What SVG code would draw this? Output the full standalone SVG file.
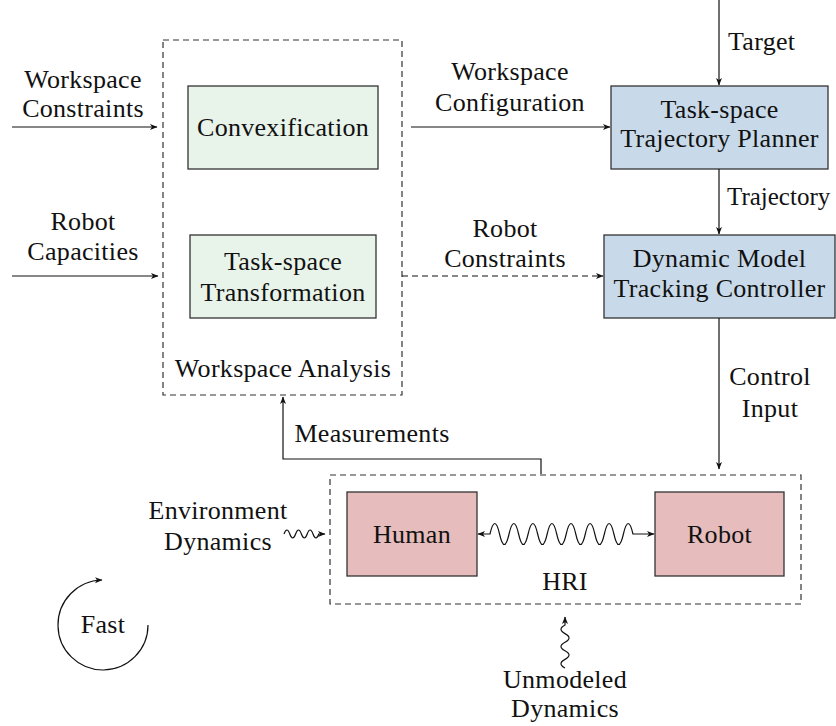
<svg xmlns="http://www.w3.org/2000/svg" width="836" height="726" viewBox="0 0 836 726">
<style>
text{font-family:"Liberation Serif","Times New Roman",serif;font-size:26px;fill:#111;letter-spacing:0.3px}
.m{text-anchor:middle}
.ln{fill:none;stroke:#111;stroke-width:1.2}
.box{stroke:#333;stroke-width:1.3}
.dash{fill:none;stroke:#333;stroke-width:1.2;stroke-dasharray:6,4}
</style>
<defs>
<marker id="ah" markerUnits="userSpaceOnUse" markerWidth="9" markerHeight="8" refX="7" refY="3" orient="auto-start-reverse">
<path d="M0,0 L7.5,3 L0,6 L2,3 z" fill="#111"/>
</marker>
</defs>
<rect width="836" height="726" fill="#fff"/>

<g id="workspace-analysis">
<rect x="163" y="40" width="239" height="355" fill="#e8f3ea" class="dash"/>
<text x="283" y="377" class="m">Workspace Analysis</text>
</g>
<g id="convexification">
<rect x="188" y="86" width="190" height="83" fill="#e8f3ea" class="box"/>
<text x="283" y="136" class="m">Convexification</text>
</g>
<g id="task-space-transformation">
<rect x="190" y="235" width="186" height="83" fill="#e8f3ea" class="box"/>
<text x="283" y="270" class="m">Task-space</text>
<text x="283" y="301" class="m">Transformation</text>
</g>
<g id="planner">
<rect x="611" y="86" width="217" height="83" fill="#c8daea" class="box"/>
<text x="719.5" y="118" class="m">Task-space</text>
<text x="719.5" y="147" class="m">Trajectory Planner</text>
</g>
<g id="controller">
<rect x="604" y="235" width="231" height="83" fill="#c8daea" class="box"/>
<text x="719.5" y="267" class="m">Dynamic Model</text>
<text x="719.5" y="297" class="m">Tracking Controller</text>
</g>
<g id="hri">
<rect x="330" y="475" width="471" height="129" class="dash"/>
<text x="565" y="590" class="m">HRI</text>
</g>
<g id="human">
<rect x="347" y="492" width="130" height="84" fill="#e6bcbc" class="box"/>
<text x="412" y="543" class="m">Human</text>
</g>
<g id="robot">
<rect x="655" y="492" width="129" height="84" fill="#e6bcbc" class="box"/>
<text x="719.5" y="543" class="m">Robot</text>
</g>
<g id="fast">
<path d="M148,625 A45,45 0 1 1 102,580" class="ln" marker-end="url(#ah)"/>
<text x="103" y="633" class="m">Fast</text>
</g>

<g id="connectors">
<path d="M12,127 H157" class="ln" marker-end="url(#ah)"/>
<path d="M12,276 H158" class="ln" marker-end="url(#ah)"/>
<path d="M411,127 H610" class="ln" marker-end="url(#ah)"/>
<path d="M402,276 H603" class="ln" stroke-dasharray="6,4" marker-end="url(#ah)"/>
<path d="M719,0 V85" class="ln" marker-end="url(#ah)"/>
<path d="M719,169 V234" class="ln" marker-end="url(#ah)"/>
<path d="M719,318 V469" class="ln" marker-end="url(#ah)"/>
<path d="M541,474 V459 H283 V397" class="ln" marker-end="url(#ah)"/>
<path d="M478,534 H490 q4.77,-21 9.53,0 t9.53,0 t9.53,0 t9.53,0 t9.53,0 t9.53,0 t9.53,0 t9.53,0 t9.53,0 t9.53,0 t9.53,0 t9.53,0 t9.53,0 t9.53,0 t9.53,0 H654" class="ln" marker-start="url(#ah)" marker-end="url(#ah)"/>
<path d="M284,534 q2.9,-8 5.8,0 t5.8,0 t5.8,0 t5.8,0 t5.8,0 t5.8,0 H325" class="ln" marker-end="url(#ah)"/>
<path d="M565,668 q-8,-4.3 0,-8.6 t0,-8.6 t0,-8.6 t0,-8.6 t0,-8.6 V617" class="ln" marker-end="url(#ah)"/>

<text x="83" y="88" class="m">Workspace</text>
<text x="83" y="117" class="m">Constraints</text>
<text x="83" y="230" class="m">Robot</text>
<text x="83" y="260" class="m">Capacities</text>
<text x="510" y="80" class="m">Workspace</text>
<text x="510" y="111" class="m">Configuration</text>
<text x="505" y="237" class="m">Robot</text>
<text x="505" y="267" class="m">Constraints</text>
<text x="728" y="50">Target</text>
<text x="727" y="205" style="font-size:25px;letter-spacing:0">Trajectory</text>
<text x="770" y="385" class="m">Control</text>
<text x="770" y="417" class="m">Input</text>
<text x="372" y="442" class="m">Measurements</text>
<text x="218" y="519" class="m">Environment</text>
<text x="218" y="550" class="m">Dynamics</text>
<text x="565" y="688" class="m">Unmodeled</text>
<text x="565" y="717" class="m">Dynamics</text>
</g>
</svg>
